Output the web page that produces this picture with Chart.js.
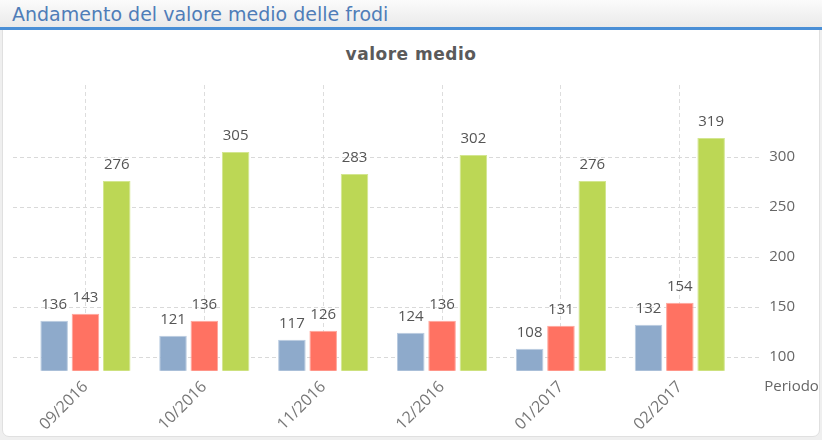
<!DOCTYPE html>
<html>
<head>
<meta charset="utf-8">
<script src="https://cdn.jsdelivr.net/npm/chart.js@4"></script>
<style>
  html, body { margin: 0; padding: 0; }
  body { width: 822px; height: 440px; position: relative; background: #efefef; overflow: hidden; }
  #frame { position: absolute; left: 2px; top: 0; width: 818px; height: 437px; background: #fff; border: 1px solid #e0e0e0; border-radius: 0 0 7px 7px; box-sizing: border-box; }
  #header { position: absolute; left: 0; top: 0; width: 822px; height: 27px; background: linear-gradient(#fbfbfb, #eaeaea); border-bottom: 3px solid #4a8fd6; }
  #header span { position: absolute; left: 12px; top: 5px; line-height: 19px; font-family: 'DejaVu Sans', sans-serif; font-size: 19px; color: #4f7db8; white-space: nowrap; }
  #titolo { position: absolute; left: 0; top: 46px; width: 822px; text-align: center; line-height: 17px; font-family: 'DejaVu Sans', sans-serif; font-weight: bold; font-size: 17px; letter-spacing: 0.5px; color: #5a5a5a; }
  #wrap { position: absolute; left: 0; top: 0; width: 822px; height: 440px; }
</style>
</head>
<body>
<div id="frame"></div>
<div id="header"><span>Andamento del valore medio delle frodi</span></div>
<div id="titolo">valore medio</div>
<div id="wrap"><canvas id="chart"></canvas></div>
<script>
// dati
const periodi = ['09/2016', '10/2016', '11/2016', '12/2016', '01/2017', '02/2017'];
const serieBlu = [136, 121, 117, 124, 108, 132];
const serieRossa = [143, 136, 126, 136, 131, 154];
const serieVerde = [276, 305, 283, 302, 276, 319];
const yTicks = [100, 150, 200, 250, 300];

const labelFont = '"Open Sans", "DejaVu Sans", sans-serif';

// horizontal dashed grid, a bit wider than the plot area
const gridOrizz = {
  id: 'gridOrizz',
  beforeDatasetsDraw(chart) {
    const ctx = chart.ctx;
    const y = chart.scales.y;
    ctx.save();
    ctx.strokeStyle = '#d9d9d9';
    ctx.lineWidth = 1;
    ctx.setLineDash([4, 3]);
    yTicks.forEach(v => {
      const py = Math.round(y.getPixelForValue(v)) + 0.5;
      ctx.beginPath();
      ctx.moveTo(13, py);
      ctx.lineTo(762, py);
      ctx.stroke();
    });
    ctx.restore();
  }
};

// values above bars + axis title "Periodo"
const etichette = {
  id: 'etichette',
  afterDatasetsDraw(chart) {
    const ctx = chart.ctx;
    ctx.save();
    ctx.font = '15px ' + labelFont;
    ctx.fillStyle = '#555';
    ctx.textAlign = 'center';
    ctx.textBaseline = 'alphabetic';
    chart.data.datasets.forEach((ds, i) => {
      chart.getDatasetMeta(i).data.forEach((bar, j) => {
        ctx.fillText(ds.data[j], bar.x, bar.y - 12);
      });
    });
    ctx.textAlign = 'left';
    ctx.textBaseline = 'middle';
    ctx.fillStyle = '#666';
    ctx.fillText('Periodo', chart.scales.y.left + 25, chart.chartArea.bottom + 16);
    ctx.restore();
  }
};

const ctx = document.getElementById('chart').getContext('2d');
const grafico = new Chart(ctx, {
  type: 'bar',
  data: {
    labels: periodi,
    datasets: [
      { label: 'serie 1', data: serieBlu, backgroundColor: '#8eaacb', borderColor: '#b9cbe0', borderWidth: 1 },
      { label: 'serie 2', data: serieRossa, backgroundColor: '#ff7262', borderColor: '#ffa59b', borderWidth: 1 },
      { label: 'serie 3', data: serieVerde, backgroundColor: '#bcd755', borderColor: '#d3e690', borderWidth: 1 }
    ]
  },
  options: {
    animation: false,
    responsive: true,
    maintainAspectRatio: false,
    categoryPercentage: 0.79,
    barPercentage: 0.88,
    layout: { padding: { left: 26, right: -3, top: 85, bottom: -1 } },
    scales: {
      x: {
        grid: { offset: false, color: '#dddddd', drawTicks: false },
        border: { display: false, dash: [4, 3] },
        ticks: { maxRotation: 45, minRotation: 45, padding: 8, color: '#777', font: { family: labelFont, size: 16, lineHeight: 1 } }
      },
      y: {
        position: 'right',
        min: 86,
        max: 372,
        afterBuildTicks: (scale) => { scale.ticks = yTicks.map(v => ({ value: v })); },
        grid: { display: false, drawTicks: false },
        border: { display: false },
        ticks: { padding: 30, color: '#666', font: { family: labelFont, size: 15 } }
      }
    },
    plugins: {
      legend: { display: false },
      tooltip: { enabled: false },
      title: { display: false }
    }
  },
  plugins: [gridOrizz, etichette]
});
</script>
</body>
</html>
